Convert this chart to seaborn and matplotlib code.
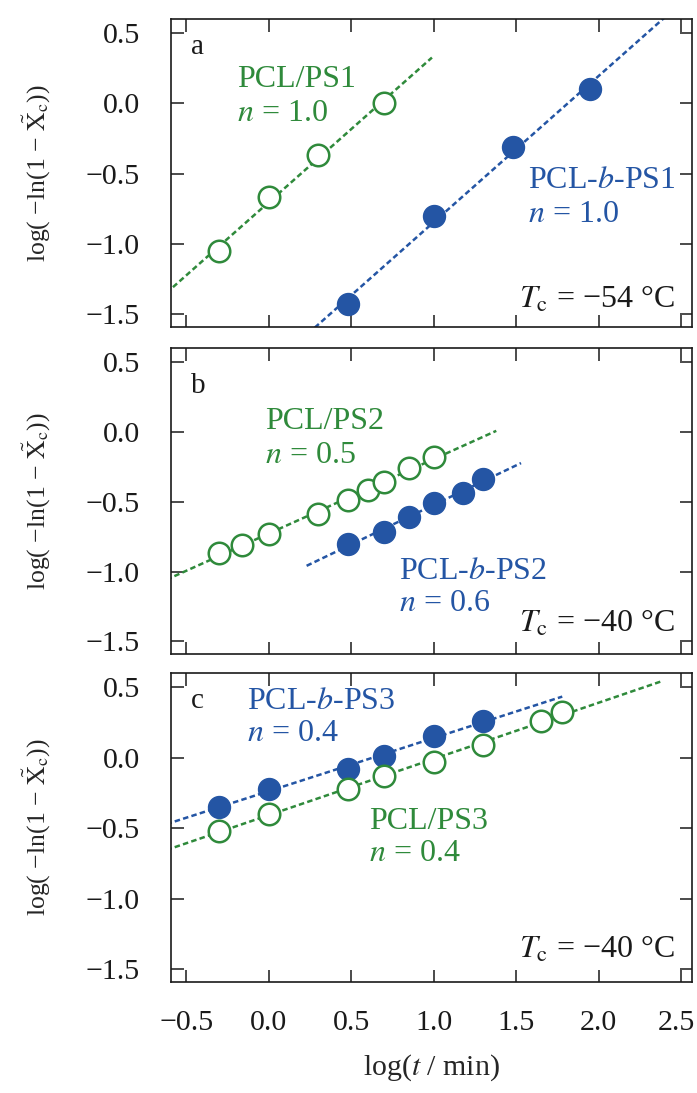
import numpy as np
import pandas as pd
import matplotlib
matplotlib.use("Agg")
import matplotlib.pyplot as plt
import matplotlib.transforms as mtransforms
import seaborn as sns

# ---------------- data ----------------
panel_labels = ["a", "b", "c"]
tc_labels = ["$T_{\\mathrm{c}}$ = \u221254 \u00b0C", "$T_{\\mathrm{c}}$ = \u221240 \u00b0C", "$T_{\\mathrm{c}}$ = \u221240 \u00b0C"]

# panel a
a_blend_x = [-0.30, 0.00, 0.30, 0.70]
a_blend_y = [-1.05, -0.67, -0.37, 0.00]
a_block_x = [0.48, 1.00, 1.48, 1.95]
a_block_y = [-1.43, -0.80, -0.31, 0.10]
# panel b
b_blend_x = [-0.30, -0.16, 0.00, 0.30, 0.48, 0.60, 0.70, 0.85, 1.00]
b_blend_y = [-0.87, -0.81, -0.73, -0.59, -0.49, -0.42, -0.36, -0.26, -0.18]
b_block_x = [0.48, 0.70, 0.85, 1.00, 1.18, 1.30]
b_block_y = [-0.80, -0.72, -0.61, -0.51, -0.44, -0.34]
# panel c
c_block_x = [-0.30, 0.00, 0.48, 0.70, 1.00, 1.30]
c_block_y = [-0.35, -0.22, -0.08, 0.01, 0.15, 0.26]
c_blend_x = [-0.30, 0.00, 0.48, 0.70, 1.00, 1.30, 1.65, 1.78]
c_blend_y = [-0.52, -0.40, -0.22, -0.13, -0.03, 0.09, 0.26, 0.32]

# x-extent of each fitted Avrami line
a_blend_fit = [-0.62, 0.99]
a_block_fit = [0.20, 2.50]
b_blend_fit = [-0.62, 1.38]
b_block_fit = [0.23, 1.53]
c_block_fit = [-0.62, 1.78]
c_blend_fit = [-0.62, 2.39]

x_ticks = [-0.5, 0.0, 0.5, 1.0, 1.5, 2.0, 2.5]
y_ticks = [-1.5, -1.0, -0.5, 0.0, 0.5]

# ---------------- style ----------------
sns.set_theme(style="ticks")
plt.rcParams["font.family"] = ["Liberation Serif", "DejaVu Serif"]
plt.rcParams["mathtext.fontset"] = "stix"
plt.rcParams["axes.linewidth"] = 1.2
plt.rcParams["axes.edgecolor"] = "#1a1a1a"

GREEN = "#2f8a3b"
BLUE = "#2455a4"
FS_TICK = 21.5
FS_TXT = 23

fig = plt.figure(figsize=(6.97, 10.93), dpi=100)
left, width = 0.2449, 0.748
boxes = [(0.7011, 0.2815), (0.4016, 0.2802), (0.1016, 0.2827)]
axes = [fig.add_axes([left, b, width, h]) for b, h in boxes]

panels = [
    dict(blend=(a_blend_x, a_blend_y, a_blend_fit), block=(a_block_x, a_block_y, a_block_fit)),
    dict(blend=(b_blend_x, b_blend_y, b_blend_fit), block=(b_block_x, b_block_y, b_block_fit)),
    dict(blend=(c_blend_x, c_blend_y, c_blend_fit), block=(c_block_x, c_block_y, c_block_fit)),
]

dash = (0, (2.2, 1.3))
for ax, p in zip(axes, panels):
    # fitted lines
    for key, col in (("block", BLUE), ("blend", GREEN)):
        xs, ys, rng = p[key]
        k, b0 = np.polyfit(xs, ys, 1)
        lx = np.array(rng)
        df = pd.DataFrame({"x": lx, "y": k * lx + b0})
        sns.lineplot(data=df, x="x", y="y", ax=ax, color=col, lw=1.8,
                     linestyle=dash, zorder=1)
    # block copolymer: filled
    xs, ys, _ = p["block"]
    sns.scatterplot(x=xs, y=ys, ax=ax, color=BLUE, edgecolor=BLUE, s=250,
                    linewidth=1.0, zorder=3)
    # blend: open
    xs, ys, _ = p["blend"]
    sns.scatterplot(x=xs, y=ys, ax=ax, color=GREEN, edgecolor=GREEN, s=240,
                    linewidth=1.8, zorder=4)
    ax.collections[-1].set_facecolor("white")

ylab = "log( \u2212ln(1 \u2212 $\\tilde{\\mathrm{X}}_{\\mathrm{c}}$))"
for i, ax in enumerate(axes):
    ax.set_xlim(-0.594, 2.567)
    ax.set_ylim(-1.59, 0.60)
    ax.set_xticks(x_ticks)
    ax.set_yticks(y_ticks)
    ax.set_yticklabels([f"{v:.1f}".replace("-", "\u2212") for v in y_ticks])
    ax.tick_params(direction="in", top=True, right=True, length=9, width=1.1,
                   labelsize=FS_TICK, colors="#1a1a1a")
    ax.tick_params(axis="y", pad=22)
    ax.tick_params(axis="x", pad=20)
    if i < 2:
        ax.set_xticklabels([])
        ax.set_xlabel("")
    else:
        ax.set_xticklabels([f"{v:.1f}".replace("-", "\u2212") for v in x_ticks])
        ax.set_xlabel("log($t$ / min)", fontsize=FS_TICK, labelpad=12)
    ax.set_ylabel(ylab, fontsize=18.5)
    ax.yaxis.set_label_coords(-0.226, 0.5)
    ax.text(-0.47, [0.40, 0.33, 0.40][i], panel_labels[i], fontsize=21,
            color="#1a1a1a", ha="left", va="center")
    ax.text(2.46, [-1.40, -1.37, -1.36][i], tc_labels[i], fontsize=FS_TXT,
            color="#1a1a1a", ha="right", va="center")

# keep the last x tick label inside the canvas
last = axes[2].get_xticklabels()[-1]
last.set_transform(last.get_transform() +
                   mtransforms.ScaledTranslation(-5 / 100, 0, fig.dpi_scale_trans))

t_kw = dict(fontsize=FS_TXT, ha="left", va="center")
# panel a
axes[0].text(-0.19, 0.17, "PCL/PS1", color=GREEN, **t_kw)
axes[0].text(-0.19, -0.07, "$n$ = 1.0", color=GREEN, **t_kw)
axes[0].text(1.57, -0.55, "PCL-$b$-PS1", color=BLUE, **t_kw)
axes[0].text(1.57, -0.79, "$n$ = 1.0", color=BLUE, **t_kw)
# panel b
axes[1].text(-0.02, 0.07, "PCL/PS2", color=GREEN, **t_kw)
axes[1].text(-0.02, -0.17, "$n$ = 0.5", color=GREEN, **t_kw)
axes[1].text(0.79, -1.00, "PCL-$b$-PS2", color=BLUE, **t_kw)
axes[1].text(0.79, -1.23, "$n$ = 0.6", color=BLUE, **t_kw)
# panel c
axes[2].text(-0.13, 0.40, "PCL-$b$-PS3", color=BLUE, **t_kw)
axes[2].text(-0.13, 0.17, "$n$ = 0.4", color=BLUE, **t_kw)
axes[2].text(0.61, -0.45, "PCL/PS3", color=GREEN, **t_kw)
axes[2].text(0.61, -0.68, "$n$ = 0.4", color=GREEN, **t_kw)

fig.savefig("out.png", dpi=100)
